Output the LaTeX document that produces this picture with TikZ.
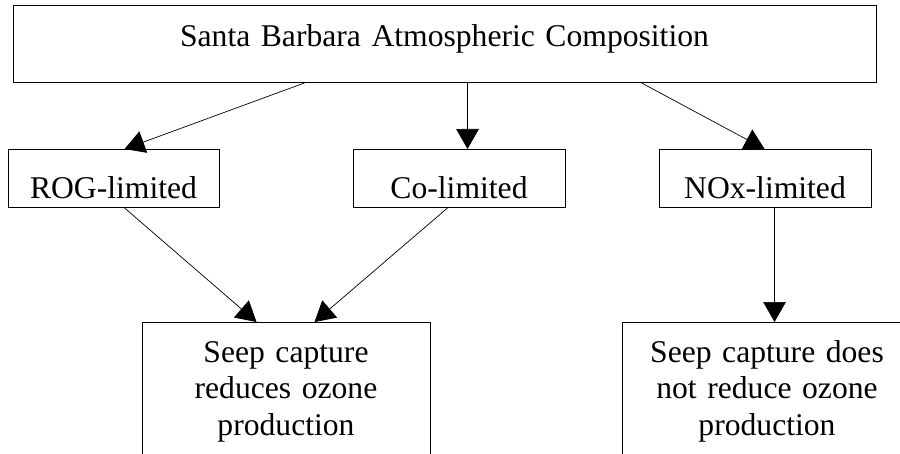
\documentclass[tikz,border=0pt]{standalone}
\usepackage{fontspec}
\setmainfont{Liberation Serif}
\usetikzlibrary{arrows.meta,calc}
\begin{document}
\begin{tikzpicture}[x=0.03cm,y=-0.03cm,
        box/.style={draw,line width=0.8pt,inner sep=0pt,align=center,anchor=north,
                    font=\fontsize{27}{31}\selectfont},
        flow/.style={line width=0.6pt,-{Triangle[length=0.6cm,width=0.68cm]}}]
        \useasboundingbox (0, 0) rectangle (900, 454);
        \clip (0, 0) rectangle (900, 454);

        % Kopf
        \node[box,text width=25.89cm,text height=1.23cm,text depth=1.08cm] (comp) at (444.5, 5)
            {Santa Barbara Atmospheric Composition};

        % Regime
        \node[box,text width=6.33cm,text height=1.47cm,text depth=0.27cm] (rog) at (113.5, 149) {ROG-limited};
        \node[box,text width=6.36cm,text height=1.47cm,text depth=0.27cm] (co) at (459, 149) {Co-limited};
        \node[box,text width=6.36cm,text height=1.47cm,text depth=0.27cm] (nox) at (765, 149) {NOx-limited};

        % Folgen
        \node[box,text width=8.64cm,text height=1.2cm,text depth=5cm] (seepyes) at (286, 322)
            {Seep capture\\reduces ozone\\production};
        \node[box,text width=8.7cm,text height=1.2cm,text depth=5cm] (seepno) at (767, 322)
            {Seep capture does\\not reduce ozone\\production};

        % Pfeile
        \draw[flow] ($(comp.south west)+(292,0)$) -- ($(rog.north west)+(117,0)$);
        \draw[flow] ($(comp.south west)+(455,0)$) -- ($(co.north west)+(115,0)$);
        \draw[flow] ($(comp.south west)+(629,0)$) -- ($(nox.north west)+(106,0)$);
        \draw[flow] ($(rog.south west)+(117,0)$) -- ($(seepyes.north west)+(115,0)$);
        \draw[flow] ($(co.south west)+(95,0)$) -- ($(seepyes.north west)+(173,0)$);
        \draw[flow] ($(nox.south west)+(116,0)$) -- ($(seepno.north west)+(153,0)$);
    \end{tikzpicture}
\end{document}
